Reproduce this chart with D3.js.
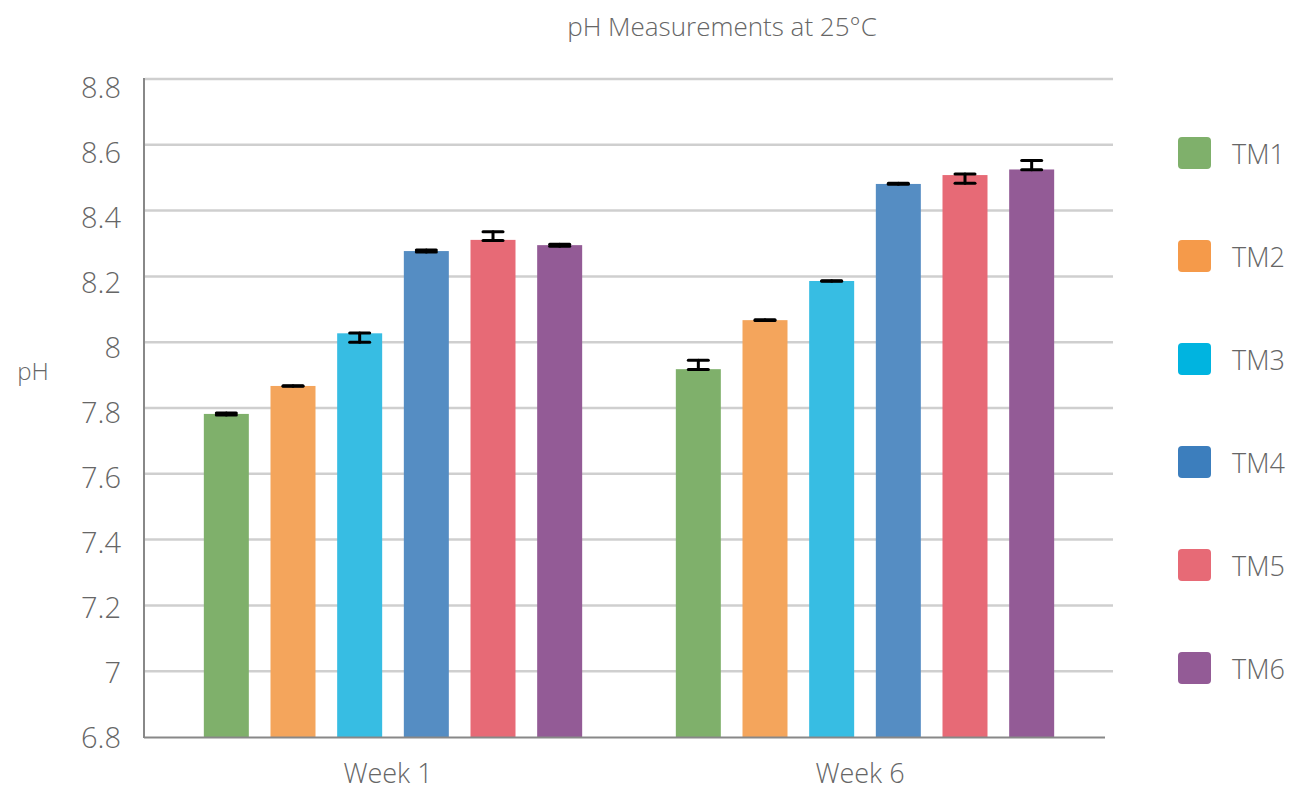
<!DOCTYPE html>
<html><head><meta charset="utf-8">
<script src="https://cdn.jsdelivr.net/npm/d3@7"></script>
<style>
html,body{margin:0;padding:0;background:#fff;}
text{font-family:"Open Sans","Noto Sans",sans-serif;}
</style></head>
<body><svg id="chart" width="1294" height="792"></svg>
<script>
const title = "pH Measurements at 25°C";
const yLabel = "pH";
const weeks = ["Week 1", "Week 6"];
const series = ["TM1", "TM2", "TM3", "TM4", "TM5", "TM6"];
const week1Values = [7.782, 7.867, 8.027, 8.277, 8.311, 8.295];
const week6Values = [7.918, 8.067, 8.186, 8.481, 8.508, 8.525];
const week1ErrMinus = [0.003, 0.001, 0.027, 0.003, 0.002, 0.003];
const week1ErrPlus  = [0.003, 0.001, 0.001, 0.003, 0.025, 0.003];
const week6ErrMinus = [0.001, 0.001, 0.001, 0.001, 0.025, 0.001];
const week6ErrPlus  = [0.027, 0.001, 0.001, 0.002, 0.003, 0.027];
const yTicks = [6.8, 7, 7.2, 7.4, 7.6, 7.8, 8, 8.2, 8.4, 8.6, 8.8];
const barColors = ["#7fb06b", "#f4a55c", "#37bde3", "#558dc3", "#e76a76", "#935b96"];
const legendColors = ["#7fb06b", "#f59a4a", "#00b4e0", "#3c7ebd", "#e76a76", "#935b96"];

const valuesByWeek = [week1Values, week6Values];
const minusByWeek = [week1ErrMinus, week6ErrMinus];
const plusByWeek = [week1ErrPlus, week6ErrPlus];
const data = [];
weeks.forEach((w, i) => series.forEach((s, j) => data.push({
  week: w, s, v: valuesByWeek[i][j], lo: valuesByWeek[i][j] - minusByWeek[i][j], hi: valuesByWeek[i][j] + plusByWeek[i][j], c: barColors[j]
})));

const svg = d3.select("#chart");
const y = d3.scaleLinear().domain([6.8, 8.8]).range([737, 79]);
const yLab = d3.scaleLinear().domain([6.8, 8.8]).range([736, 86]);
const x0 = d3.scaleBand().domain(weeks).range([157, 1101]);
const x1 = d3.scaleBand().domain(series).range([36, 436]).paddingInner(0.325).paddingOuter(0.1625);

// gridlines
svg.append("g").selectAll("line").data(yTicks.filter(t => t > 6.8)).join("line")
  .attr("x1", 145).attr("x2", 1113).attr("y1", d => y(d)).attr("y2", d => y(d))
  .attr("stroke", "#cfcfcf").attr("stroke-width", 2.5);

// tick labels
svg.append("g").selectAll("text").data(yTicks).join("text")
  .attr("x", 121).attr("y", d => yLab(d)).attr("text-anchor", "end")
  .attr("dominant-baseline", "central").attr("font-size", 29).attr("font-weight", 300)
  .attr("fill", "#666").text(d => d3.format("~g")(d));

// bars
svg.append("g").selectAll("rect").data(data).join("rect")
  .attr("x", d => x0(d.week) + x1(d.s)).attr("width", x1.bandwidth())
  .attr("y", d => y(d.v)).attr("height", d => y(6.8) - y(d.v))
  .attr("fill", d => d.c);

// error bars
const eb = svg.append("g").attr("stroke", "#000").attr("stroke-width", 3).attr("stroke-linecap", "round");
data.forEach(d => {
  const cx = x0(d.week) + x1(d.s) + x1.bandwidth() / 2;
  eb.append("line").attr("x1", cx).attr("x2", cx).attr("y1", y(d.lo)).attr("y2", y(d.hi));
  [d.lo, d.hi].forEach(v => eb.append("line").attr("x1", cx - 10).attr("x2", cx + 10).attr("y1", y(v)).attr("y2", y(v)));
});

// axes lines
svg.append("line").attr("x1", 144).attr("x2", 144).attr("y1", 78).attr("y2", 738).attr("stroke", "#888").attr("stroke-width", 2);
svg.append("line").attr("x1", 144).attr("x2", 1105).attr("y1", 737.5).attr("y2", 737.5).attr("stroke", "#888").attr("stroke-width", 2);

// x labels
svg.append("g").selectAll("text").data(weeks).join("text")
  .attr("x", d => x0(d) + x0.bandwidth() / 2 - 5).attr("y", 783).attr("text-anchor", "middle")
  .attr("font-size", 27).attr("font-weight", 300).attr("fill", "#666").text(d => d);

// title
svg.append("text").attr("x", 722).attr("y", 36).attr("text-anchor", "middle")
  .attr("font-size", 26).attr("font-weight", 300).attr("fill", "#666").text(title);

// y label
svg.append("text").attr("x", 33).attr("y", 380).attr("text-anchor", "middle")
  .attr("font-size", 24).attr("font-weight", 300).attr("fill", "#666").text(yLabel);

// legend
const lg = svg.append("g").selectAll("g").data(series).join("g")
  .attr("transform", (d, i) => `translate(1178,${153 + i * 103})`);
lg.append("rect").attr("x", 0).attr("y", -16).attr("width", 33).attr("height", 32).attr("rx", 4)
  .attr("fill", (d, i) => legendColors[i]);
lg.append("text").attr("x", 54).attr("y", 0).attr("dominant-baseline", "central")
  .attr("font-size", 27).attr("font-weight", 300).attr("fill", "#666").text(d => d);
</script></body></html>
